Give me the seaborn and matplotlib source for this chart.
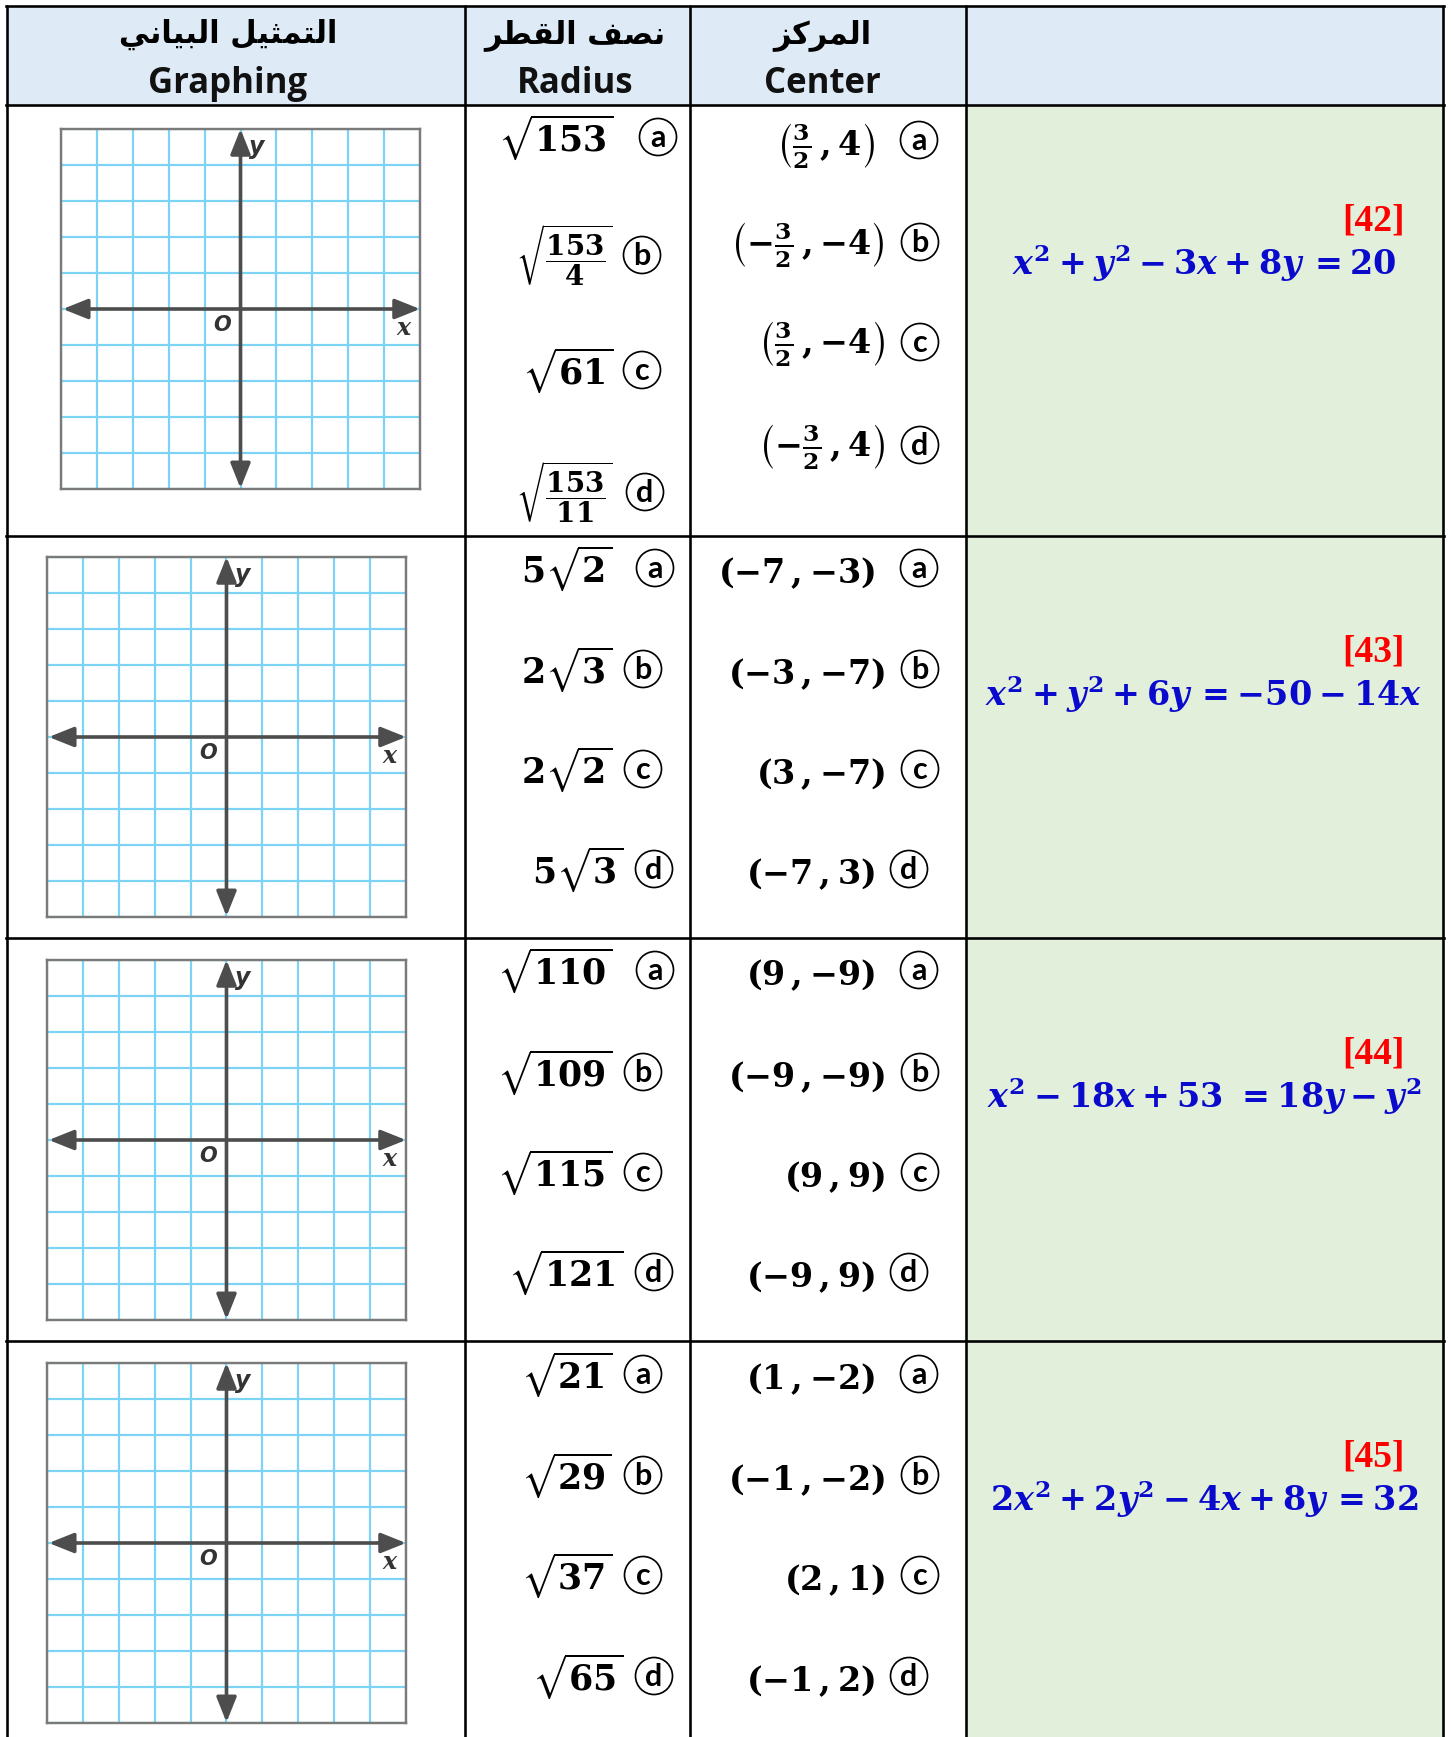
import matplotlib
matplotlib.use("Agg")
import matplotlib.pyplot as plt
from matplotlib.patches import Rectangle, Circle
import seaborn as sns

# ---------------- data ----------------
header_ar = ["التمثيل البياني", "نصف القطر", "المركز", ""]
header_en = ["Graphing", "Radius", "Center", ""]
question_numbers = ["[42]", "[43]", "[44]", "[45]"]
equations = [
    r"$x^2+y^2-3x+8y\,=20$",
    r"$x^2+y^2+6y\,=-50-14x$",
    r"$x^2-18x+53\ =18y-y^2$",
    r"$2x^2+2y^2-4x+8y\,=32$",
]
option_letters = ["a", "b", "c", "d"]
radius_options = [
    [r"$\sqrt{153}$", r"$\sqrt{\dfrac{153}{4}}$", r"$\sqrt{61}$", r"$\sqrt{\dfrac{153}{11}}$"],
    [r"$5\sqrt{2}$", r"$2\sqrt{3}$", r"$2\sqrt{2}$", r"$5\sqrt{3}$"],
    [r"$\sqrt{110}$", r"$\sqrt{109}$", r"$\sqrt{115}$", r"$\sqrt{121}$"],
    [r"$\sqrt{21}$", r"$\sqrt{29}$", r"$\sqrt{37}$", r"$\sqrt{65}$"],
]
center_options = [
    [r"$\left(\frac{3}{2}\,,4\right)$", r"$\left(-\frac{3}{2}\,,{-}4\right)$",
     r"$\left(\frac{3}{2}\,,{-}4\right)$", r"$\left(-\frac{3}{2}\,,4\right)$"],
    [r"$(-7\,,{-}3)$", r"$(-3\,,{-}7)$", r"$(3\,,{-}7)$", r"$(-7\,,3)$"],
    [r"$(9\,,{-}9)$", r"$(-9\,,{-}9)$", r"$(9\,,9)$", r"$(-9\,,9)$"],
    [r"$(1\,,{-}2)$", r"$(-1\,,{-}2)$", r"$(2\,,1)$", r"$(-1\,,2)$"],
]
grid_ticks = list(range(-5, 6))

# ---------------- layout (pixels) ----------------
W, H = 1451, 1737
col_x = [7, 465, 690, 966, 1443]
row_y = [6, 105, 536, 938, 1341, 1737]
header_cx = [228, 575, 822]
grid_boxes = [(61, 129), (47, 557), (47, 960), (47, 1363)]
grid_size = (359, 360)
rad_dy = [[32, 150, 265, 387], [32, 133, 233, 333], [32, 134, 234, 334], [33, 134, 234, 335]]
cen_dy = [[35, 137, 237, 340], [32, 133, 233, 333], [32, 134, 234, 334], [33, 134, 234, 335]]
cen_text_shift = [[6, 3, 2, 2], [5, 5, 5, 5], [5, 5, 5, 5], [5, 5, 5, 5]]
rad_fs = [[25, 20, 25, 20], [25, 25, 25, 25], [25, 25, 25, 25], [25, 25, 25, 25]]
rad_xr = [[613, 613, 613, 613], [612, 612, 612, 623], [612, 612, 612, 623], [612, 612, 612, 623]]
rad_xc = [[658, 642, 642, 645], [655, 643, 643, 654], [655, 643, 643, 654], [643, 643, 643, 654]]
cen_xr = [[875, 885, 885, 885], [875, 885, 885, 875], [875, 885, 885, 875], [875, 885, 885, 875]]
cen_xc = [[919, 920, 920, 920], [919, 920, 920, 909], [919, 920, 920, 909], [919, 920, 920, 909]]

HEAD_BG = "#DEEAF6"
GREEN_BG = "#E2EFDA"
EQ_BLUE = "#0A0ACC"
GRID_BLUE = "#7DD3F5"

# ---------------- style ----------------
sns.set_theme(style="white")
plt.rcParams["font.family"] = ["DejaVu Sans"]
plt.rcParams["mathtext.fontset"] = "custom"
plt.rcParams["mathtext.rm"] = "DejaVu Serif:bold"
plt.rcParams["mathtext.bf"] = "DejaVu Serif:bold"
plt.rcParams["mathtext.it"] = "DejaVu Serif:italic:bold"
plt.rcParams["mathtext.fallback"] = "stix"

PX = 72.0 / 100.0  # points per pixel at dpi 100

# --- minimal Arabic shaping (contextual forms, visual order) ---
AR_FORMS = {
    "ا": ("\uFE8D", "\uFE8E", None, None),
    "ب": ("\uFE8F", "\uFE90", "\uFE91", "\uFE92"),
    "ت": ("\uFE95", "\uFE96", "\uFE97", "\uFE98"),
    "ث": ("\uFE99", "\uFE9A", "\uFE9B", "\uFE9C"),
    "ر": ("\uFEAD", "\uFEAE", None, None),
    "ز": ("\uFEAF", "\uFEB0", None, None),
    "ص": ("\uFEB9", "\uFEBA", "\uFEBB", "\uFEBC"),
    "ط": ("\uFEC1", "\uFEC2", "\uFEC3", "\uFEC4"),
    "ف": ("\uFED1", "\uFED2", "\uFED3", "\uFED4"),
    "ق": ("\uFED5", "\uFED6", "\uFED7", "\uFED8"),
    "ك": ("\uFED9", "\uFEDA", "\uFEDB", "\uFEDC"),
    "ل": ("\uFEDD", "\uFEDE", "\uFEDF", "\uFEE0"),
    "م": ("\uFEE1", "\uFEE2", "\uFEE3", "\uFEE4"),
    "ن": ("\uFEE5", "\uFEE6", "\uFEE7", "\uFEE8"),
    "ي": ("\uFEF1", "\uFEF2", "\uFEF3", "\uFEF4"),
}


def shape_ar(text):
    chars = list(text)
    out = []
    for i, c in enumerate(chars):
        if c not in AR_FORMS:
            out.append(c)
            continue
        prev = chars[i - 1] if i > 0 else None
        nxt = chars[i + 1] if i + 1 < len(chars) else None
        jp = prev in AR_FORMS and AR_FORMS[prev][2] is not None
        jn = nxt in AR_FORMS and AR_FORMS[c][2] is not None
        iso, fin, ini, med = AR_FORMS[c]
        if jp and jn:
            out.append(med)
        elif jp:
            out.append(fin)
        elif jn:
            out.append(ini)
        else:
            out.append(iso)
    return "".join(reversed(out))


fig = plt.figure(figsize=(W / 100, H / 100), dpi=100)
ax = fig.add_axes([0, 0, 1, 1])
ax.set_xlim(0, W)
ax.set_ylim(H, 0)
ax.axis("off")

# backgrounds
ax.add_patch(Rectangle((col_x[0], row_y[0]), col_x[4] - col_x[0], row_y[1] - row_y[0],
                       facecolor=HEAD_BG, edgecolor="none", zorder=0))
ax.add_patch(Rectangle((col_x[3], row_y[1]), col_x[4] - col_x[3], row_y[5] - row_y[1],
                       facecolor=GREEN_BG, edgecolor="none", zorder=0))

# table lines
LW = 2.6 * PX
for yy in row_y[:-1]:
    ax.plot([col_x[0] - 1, col_x[4] + 1], [yy, yy], color="black", lw=LW, zorder=5,
            solid_capstyle="projecting")
for xx in col_x:
    ax.plot([xx, xx], [row_y[0], H], color="black", lw=LW, zorder=5)

# headers
for i in range(3):
    ax.text(header_cx[i], 43, shape_ar(header_ar[i]), ha="center", va="baseline",
            fontsize=22, fontweight="bold", family=["DejaVu Sans"], color="black")
    ax.text(header_cx[i], 93, header_en[i], ha="center", va="baseline",
            fontsize=25, fontweight="bold", family=["Open Sans", "DejaVu Sans"], color="#111111")

MATH_FS = 24


def circled(x, y, letter):
    ax.add_patch(Circle((x, y), 18.5, fill=False, edgecolor="black", lw=1.7 * PX, zorder=4))
    ax.text(x, y + 1, letter, ha="center", va="center", fontsize=22,
            family=["Lato", "DejaVu Sans"], fontweight="bold", color="black", zorder=4)


for r in range(4):
    top = row_y[r + 1]
    # radius & center options
    for k in range(4):
        yr = top + rad_dy[r][k]
        ax.text(rad_xr[r][k], yr, radius_options[r][k], ha="right", va="center",
                fontsize=rad_fs[r][k], color="black")
        circled(rad_xc[r][k], yr, option_letters[k])
        yc = top + cen_dy[r][k]
        ax.text(cen_xr[r][k], yc + cen_text_shift[r][k], center_options[r][k], ha="right",
                va="center", fontsize=MATH_FS, color="black")
        circled(cen_xc[r][k], yc, option_letters[k])
    # question number and equation
    ax.text(1405, top + 116, question_numbers[r], ha="right", va="center", fontsize=27,
            fontweight="bold", family=["Liberation Serif", "DejaVu Serif"], color="#FF0000")
    ax.text(1204, top + 158, equations[r], ha="center", va="center", fontsize=MATH_FS,
            color=EQ_BLUE)

    # coordinate grid
    gx, gy = grid_boxes[r]
    gw, gh = grid_size
    with sns.axes_style("whitegrid", {"grid.color": GRID_BLUE, "axes.edgecolor": "#7a7a7a",
                                      "axes.facecolor": "white"}):
        ag = fig.add_axes([gx / W, 1 - (gy + gh) / H, gw / W, gh / H])
    ag.set_xlim(grid_ticks[0], grid_ticks[-1])
    ag.set_ylim(grid_ticks[0], grid_ticks[-1])
    ag.set_xticks(grid_ticks)
    ag.set_yticks(grid_ticks)
    ag.tick_params(length=0, labelbottom=False, labelleft=False)
    ag.grid(True, color=GRID_BLUE, lw=2.2 * PX, zorder=0)
    for sp in ag.spines.values():
        sp.set_visible(True)
        sp.set_color("#7a7a7a")
        sp.set_linewidth(2.4 * PX)
    ag.set_axisbelow(True)
    arrow_kw = dict(arrowstyle="<|-|>,head_length=0.8,head_width=0.32", color="#4d4d4d",
                    lw=3.6 * PX, shrinkA=0, shrinkB=0, mutation_scale=19)
    ag.annotate("", xy=(grid_ticks[-1], 0), xytext=(grid_ticks[0] + 0.05, 0),
                arrowprops=arrow_kw, annotation_clip=False)
    ag.annotate("", xy=(0, grid_ticks[-1]), xytext=(0, grid_ticks[0] + 0.02),
                arrowprops=arrow_kw, annotation_clip=False)
    ag.text(0.45, 4.5, "y", ha="center", va="center", fontsize=17, fontweight="bold",
            fontstyle="italic", family=["DejaVu Sans"], color="#333333")
    ag.text(-0.5, -0.45, "O", ha="center", va="center", fontsize=15, fontweight="bold",
            fontstyle="italic", family=["DejaVu Sans"], color="#333333")
    ag.text(4.53, -0.52, "x", ha="center", va="center", fontsize=17, fontweight="bold",
            fontstyle="italic", family=["DejaVu Serif"], color="#333333")

fig.savefig("out.png", dpi=100, facecolor="white")
